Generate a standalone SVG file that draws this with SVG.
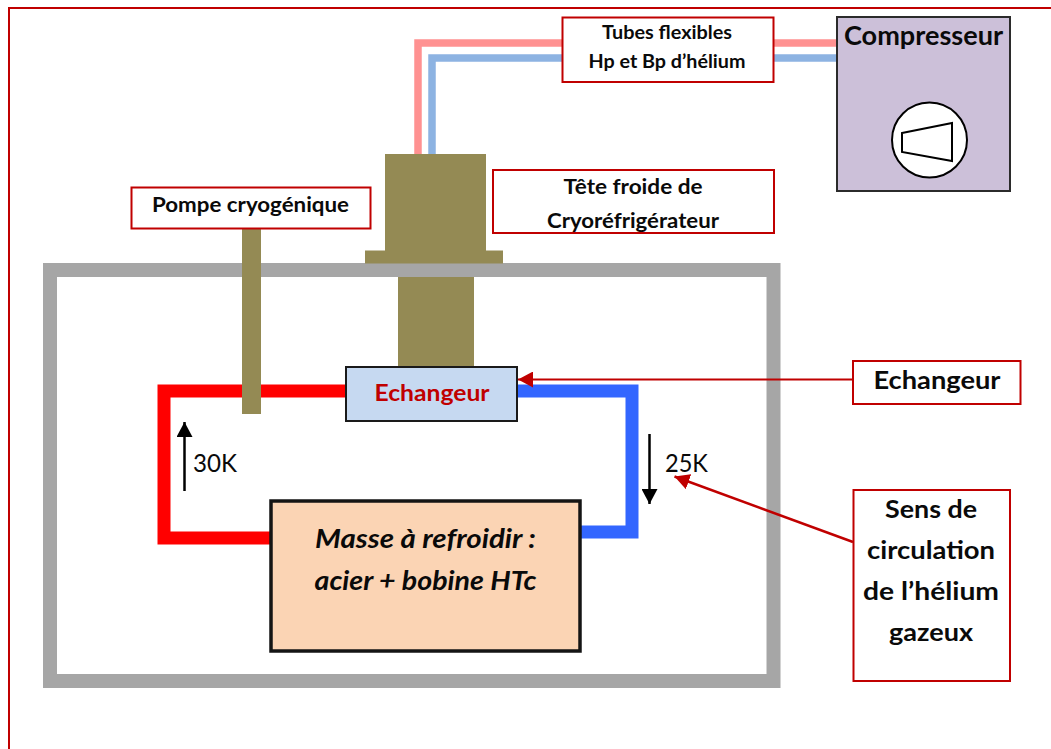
<svg xmlns="http://www.w3.org/2000/svg" width="1051" height="749" viewBox="0 0 1051 749">
<style>
text{font-family:Lato,"Open Sans","Liberation Sans",sans-serif;fill:#0a0a0a;text-anchor:middle}
.b{font-weight:700}
.lab{fill:#fff;stroke:#c00000;stroke-width:2}
.olive{fill:#948a54}
.pipe{fill:none;stroke-width:13;stroke-linejoin:miter}
</style>
<defs>
<marker id="redHead" markerUnits="userSpaceOnUse" markerWidth="16" markerHeight="16" refX="15" refY="8" orient="auto"><path d="M0 0L15 8L0 16Z" fill="#c00000"/></marker>
<marker id="blackHead" markerUnits="userSpaceOnUse" markerWidth="16" markerHeight="16" refX="15" refY="8" orient="auto"><path d="M0 0L15 8L0 16Z" fill="#000"/></marker>
</defs>
<rect width="1051" height="749" fill="#fff"/>
<path d="M9 749V8H1051" fill="none" stroke="#c00000" stroke-width="2"/>
<g id="connectors">
<path d="M418 154V43H836" fill="none" stroke="#ff9191" stroke-width="7.500"/>
<path d="M432 154V58H836" fill="none" stroke="#8db3e2" stroke-width="7.500"/>
<path class="pipe" d="M345 391H164V538H271" stroke="#ff0000"/>
<path class="pipe" d="M517 391H632V532H581" stroke="#3366ff"/>
<path d="M184.500 491V422" fill="none" stroke="#000" stroke-width="2.500" marker-end="url(#blackHead)"/>
<path d="M649.500 434V504" fill="none" stroke="#000" stroke-width="2.500" marker-end="url(#blackHead)"/>
</g>
<g id="cryostat"><rect x="50" y="270" width="723.500" height="411" fill="none" stroke="#a6a6a6" stroke-width="14"/></g>
<g id="tete-cryo">
<rect class="olive" x="385" y="154" width="101" height="97"/>
<rect class="olive" x="365" y="250.500" width="138" height="13"/>
<rect class="olive" x="398" y="277" width="76" height="91"/>
</g>
<g id="pompe-rod"><rect class="olive" x="242" y="229" width="19" height="185"/></g>
<g id="compresseur">
<rect x="837" y="17" width="173" height="174" fill="#ccc0d9" stroke="#2b2b2b" stroke-width="2"/>
<ellipse cx="929.500" cy="140" rx="37.500" ry="37.500" fill="#fff" stroke="#000" stroke-width="2"/>
<path d="M902 133L952 123V161L902 152Z" fill="#fff" stroke="#000" stroke-width="2"/>
<text class="b" x="923.500" y="45" font-size="26" textLength="159" lengthAdjust="spacingAndGlyphs">Compresseur</text>
</g>
<g id="tubes">
<rect class="lab" x="562.500" y="17.500" width="211" height="64.500"/>
<text class="b" x="667" y="39" font-size="18.500" textLength="130" lengthAdjust="spacingAndGlyphs">Tubes flexibles</text>
<text class="b" x="667" y="68" font-size="18.500" textLength="157" lengthAdjust="spacingAndGlyphs">Hp et Bp d’hélium</text>
</g>
<g id="tete-label">
<rect class="lab" x="493" y="170" width="281" height="63"/>
<text class="b" x="633" y="194" font-size="20.500" textLength="139" lengthAdjust="spacingAndGlyphs">Tête froide de</text>
<text class="b" x="633" y="228" font-size="20.500" textLength="172" lengthAdjust="spacingAndGlyphs">Cryoréfrigérateur</text>
</g>
<g id="pompe">
<rect class="lab" x="131.500" y="187.500" width="239" height="41"/>
<text class="b" x="250.500" y="212" font-size="20" textLength="197" lengthAdjust="spacingAndGlyphs">Pompe cryogénique</text>
</g>
<g id="echangeur">
<rect x="346" y="367" width="171" height="54" fill="#c6d9f1" stroke="#1a1a1a" stroke-width="2"/>
<text class="b" x="432" y="401" font-size="23" style="fill:#c00000" textLength="115" lengthAdjust="spacingAndGlyphs">Echangeur</text>
</g>
<g id="masse">
<rect x="271" y="501" width="309" height="150" fill="#fbd4b4" stroke="#141414" stroke-width="3.500"/>
<text class="b" x="425.500" y="548" font-size="26" font-style="italic" textLength="221" lengthAdjust="spacingAndGlyphs">Masse à refroidir :</text>
<text class="b" x="425.500" y="590" font-size="26" font-style="italic" textLength="222" lengthAdjust="spacingAndGlyphs">acier + bobine HTc</text>
</g>
<g id="temps">
<text x="215" y="472" font-size="25" textLength="44" lengthAdjust="spacingAndGlyphs">30K</text>
<text x="686.500" y="472" font-size="25" textLength="43" lengthAdjust="spacingAndGlyphs">25K</text>
</g>
<g id="callout-echangeur">
<path d="M853 379.500H518" fill="none" stroke="#c00000" stroke-width="2" marker-end="url(#redHead)"/>
<rect class="lab" x="853" y="361" width="167.500" height="43"/>
<text class="b" x="937" y="389" font-size="25" textLength="127" lengthAdjust="spacingAndGlyphs">Echangeur</text>
</g>
<g id="callout-sens">
<path d="M853 542L674.500 476.500" fill="none" stroke="#c00000" stroke-width="2.500" marker-end="url(#redHead)"/>
<rect class="lab" x="853.500" y="490" width="156.500" height="191"/>
<text class="b" x="931" y="518" font-size="25" textLength="92" lengthAdjust="spacingAndGlyphs">Sens de</text>
<text class="b" x="931" y="559" font-size="25" textLength="128" lengthAdjust="spacingAndGlyphs">circulation</text>
<text class="b" x="931" y="600" font-size="25" textLength="136" lengthAdjust="spacingAndGlyphs">de l’hélium</text>
<text class="b" x="931" y="641" font-size="25" textLength="84" lengthAdjust="spacingAndGlyphs">gazeux</text>
</g>
</svg>
